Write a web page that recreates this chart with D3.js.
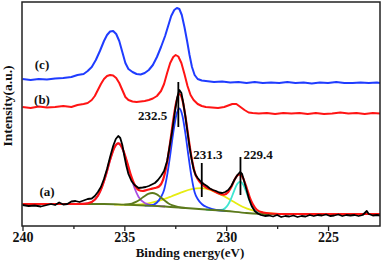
<!DOCTYPE html>
<html>
<head>
<meta charset="utf-8">
<script src="https://cdn.jsdelivr.net/npm/d3@7"></script>
<style>
  body { margin: 0; background: #fff; }
  text { font-family: "Liberation Serif", "Times New Roman", serif; font-weight: bold; fill: #111; }
</style>
</head>
<body>
<div id="chart"></div>
<script>
// binding energy (eV), intensity (a.u.) pairs
const curveC = [[240,148],[239.6,147],[239.2,148],[238.8,147.5],[238.4,148.5],[238.0,149],[237.6,150],[237.3,152],[237.0,153],[236.8,156],[236.6,160],[236.4,167],[236.2,176],[236.0,186],[235.85,192],[235.7,195.5],[235.55,196],[235.4,193],[235.25,186],[235.1,175],[234.95,164],[234.8,158],[234.6,155],[234.4,153],[234.2,152.5],[234.0,154],[233.8,157],[233.6,162],[233.4,170],[233.2,180],[233.0,191],[232.85,201],[232.7,211],[232.55,217],[232.42,219],[232.3,218],[232.18,212],[232.05,200],[231.92,186],[231.8,172],[231.68,160],[231.55,152],[231.4,148],[231.2,146.5],[231.0,146],[230.6,145],[230.2,145.5],[229.8,144.5],[229.4,145],[229.0,144],[228.6,145],[228.2,144],[227.8,144.5],[227.4,144],[227.0,145],[226.6,144],[226.2,144.5],[225.8,143.5],[225.4,144.5],[225.0,144],[224.6,145],[224.2,144],[223.8,144],[223.4,144.5],[223.0,144],[222.6,144.5],[222.45,144]];

const curveB = [[240,120],[239.6,119],[239.2,120.5],[238.8,119.5],[238.4,120],[238.0,121],[237.6,120],[237.3,122],[237.0,123],[236.8,124],[236.6,127],[236.45,131],[236.3,137],[236.15,143],[236.0,148],[235.85,151],[235.7,152],[235.55,151.5],[235.4,149],[235.25,144],[235.1,137],[234.95,130],[234.8,127],[234.6,125.5],[234.4,125],[234.2,125.5],[234.0,126],[233.8,127],[233.6,128.5],[233.4,131],[233.2,136],[233.05,143],[232.9,154],[232.75,164],[232.6,170],[232.48,172],[232.35,170.5],[232.2,164],[232.05,153],[231.9,141],[231.75,132],[231.6,127],[231.4,123],[231.2,121],[231.0,120],[230.7,119.5],[230.4,119],[230.1,120],[229.9,121.5],[229.7,123],[229.5,123],[229.3,120],[229.1,117],[228.9,114.5],[228.7,114],[228.4,113.5],[228.0,114],[227.6,113],[227.2,114],[226.8,113.5],[226.4,114],[226.0,113],[225.6,114],[225.2,113],[224.8,113.5],[224.4,114.5],[224.0,113.5],[223.6,114],[223.2,113],[222.8,114],[222.45,113.5]];

const dataA = [[240,22],[239.7,21],[239.4,21.5],[239.1,20.5],[238.8,22],[238.6,23],[238.4,22],[238.2,24.5],[238.0,22.5],[237.8,23],[237.6,25.5],[237.4,26],[237.2,25],[237.0,26.5],[236.8,28],[236.6,28.5],[236.45,31],[236.3,35],[236.15,40],[236.0,48],[235.85,58],[235.7,70],[235.55,81],[235.42,88],[235.3,91],[235.2,89],[235.1,82],[235.0,71],[234.9,61],[234.8,53],[234.65,46],[234.5,42],[234.3,39],[234.1,39.5],[233.95,40],[233.8,41],[233.65,42.5],[233.5,44],[233.35,47],[233.2,51],[233.05,56],[232.9,66],[232.78,80],[232.65,96],[232.52,115],[232.4,130],[232.3,137],[232.2,134],[232.1,123],[232.0,110],[231.9,95],[231.8,80],[231.7,68],[231.6,58],[231.5,52],[231.4,49],[231.25,45.5],[231.1,43],[230.95,41],[230.8,38.5],[230.65,37],[230.5,36],[230.35,34.5],[230.2,34],[230.05,35],[229.9,37],[229.75,41],[229.6,47],[229.45,52],[229.32,55],[229.22,53],[229.12,46],[229.0,37],[228.88,28],[228.75,21],[228.6,16],[228.45,13.5],[228.3,12],[228.1,11],[227.9,11.5],[227.7,10.5],[227.5,12],[227.3,10],[227.1,11],[226.9,10.5],[226.7,11.5],[226.5,10],[226.3,11],[226.1,10.5],[225.9,12],[225.7,11],[225.5,12],[225.3,11.5],[225.1,12.5],[224.9,11],[224.7,11.5],[224.5,12.5],[224.3,11],[224.1,12],[223.9,11.5],[223.7,12],[223.5,11],[223.3,12],[223.2,14],[223.1,16],[223.0,13],[222.8,11.5],[222.6,12],[222.45,11.5]];

const fitA = [[240,23],[238,23],[237,23.2],[236.6,25.1],[236.3,31.3],[236.1,40],[235.9,52.6],[235.7,67.2],[235.5,79.1],[235.3,83.6],[235.1,79],[234.9,67.2],[234.7,53.2],[234.5,42.5],[234.3,37],[234.1,36],[233.9,37],[233.7,38],[233.5,39],[233.3,40.5],[233.1,47.2],[232.9,64.7],[232.75,84.6],[232.6,106.8],[232.45,125.1],[232.3,132.9],[232.15,127.1],[232.0,110.3],[231.85,89.2],[231.7,69.2],[231.55,54.9],[231.4,48],[231.2,43],[231.0,39.7],[230.7,37],[230.4,33.9],[230.1,32.4],[229.9,35],[229.75,39.9],[229.6,46.8],[229.45,51.7],[229.31,52.7],[229.15,47.9],[229.0,39.3],[228.85,29.9],[228.7,22.9],[228.5,17.3],[228.2,14.5],[227.8,13.5],[227,13],[222.45,13]];

const backgroundA = [[240,23],[238,23],[236,23],[235,22.3],[234,21.5],[233,20.5],[232,19],[231,17.5],[230,16],[229,14],[228,13],[226,13],[222.45,13]];

const magentaA = [[237.6,23],[236.9,23.3],[236.6,25],[236.3,31],[236.1,40],[235.9,52],[235.7,67],[235.5,79],[235.3,83.5],[235.1,78.5],[234.9,66.5],[234.7,51.7],[234.5,39],[234.3,30],[234.0,24],[233.6,21.5],[233.0,20.5]];
const oliveA = [[235.0,22.4],[234.63,23.5],[234.43,25.1],[234.23,27.6],[234.03,30.6],[233.83,33.1],[233.63,34],[233.43,32.9],[233.23,30],[233.03,26.6],[232.83,23.6],[232.63,21.6],[232.33,19.9],[232.0,19]];
const blueA = [[234.0,21.3],[233.7,21.5],[233.4,24.5],[233.2,30],[233.05,37],[232.9,51.6],[232.75,71.9],[232.6,94.1],[232.45,111.7],[232.3,118.5],[232.15,111.3],[232.0,93.2],[231.85,70.6],[231.7,49.8],[231.55,34.7],[231.4,28],[231.2,23],[230.9,19.5],[230.5,17],[230.0,16]];
const yellowA = [[235.5,22.3],[234.7,22.2],[234.2,22.6],[233.7,24.1],[233.2,26.8],[232.7,30.5],[232.2,34.6],[231.7,37.9],[231.2,38.8],[230.7,36.4],[230.2,31.7],[229.7,26],[229.2,20.3],[228.7,16.6],[228.2,14.3],[227.7,13.4],[227.2,13]];
const cyanA = [[231.0,17.5],[230.6,16.9],[230.26,17],[230.06,18.8],[229.91,22.3],[229.76,28.4],[229.61,36.2],[229.46,42.9],[229.31,45.4],[229.16,42.2],[229.01,34.9],[228.86,26.6],[228.71,20],[228.56,16],[228.36,13.7],[228.0,13]];

// peak markers
const markerEnergy = [232.35, 231.2, 229.3];
const markerTop = [145, 64, 70];
const markerBottom = [100, 30, 32];
const markerLabels = ["232.5", "231.3", "229.4"];

const seriesLabels = ["(c)", "(b)", "(a)"];
const majorTicks = [240, 235, 230, 225];
const minorTicks = [237.5, 232.5, 227.5];

//chart set up
const svgWidth = 382;
const svgHeight = 260;
const plot = { left: 22, right: 380, top: 2, bottom: 226 };

const svg = d3.select("#chart")
  .append("svg")
  .attr("width", svgWidth)
  .attr("height", svgHeight);

const x = d3.scaleLinear()
  .domain([240, 222.45])
  .range([22.5, 380]);

const y = d3.scaleLinear()
  .domain([0, 225])
  .range([227, 2]);

svg.append("clipPath").attr("id", "clip")
  .append("rect")
  .attr("x", plot.left).attr("y", plot.top)
  .attr("width", plot.right - plot.left)
  .attr("height", plot.bottom - plot.top);

const smooth = d3.line()
  .x(d => x(d[0]))
  .y(d => y(d[1]))
  .curve(d3.curveMonotoneX);

const raw = d3.line()
  .x(d => x(d[0]))
  .y(d => y(d[1]));

const lines = svg.append("g").attr("clip-path", "url(#clip)");

function draw(data, color, gen, w) {
  lines.append("path")
    .datum(data)
    .attr("d", gen)
    .attr("fill", "none")
    .attr("stroke", color)
    .attr("stroke-width", w || 1.8)
    .attr("stroke-linejoin", "round");
}

// spectra (c) and (b)
draw(curveC, "#1f3cff", raw, 2);
draw(curveB, "#ff1414", raw, 2);

// fitted components of (a)
draw(yellowA, "#e6ec12", smooth);
draw(cyanA, "#3ee6d2", smooth);
draw(magentaA, "#a84ee0", smooth);
draw(blueA, "#1f3cff", smooth);
draw(oliveA, "#5c7a1c", smooth);
draw(backgroundA, "#5c7a1c", smooth);
draw(fitA, "#ff1414", smooth, 2.2);
draw(dataA, "#000", raw, 1.8);

// peak marker lines
markerEnergy.forEach((e, i) => {
  svg.append("line")
    .attr("x1", x(e)).attr("x2", x(e))
    .attr("y1", y(markerTop[i])).attr("y2", y(markerBottom[i]))
    .attr("stroke", "#000")
    .attr("stroke-width", 1.8);
});

svg.append("text").attr("x", x(markerEnergy[0]) - 11).attr("y", 120)
  .attr("text-anchor", "end").style("font-size", "13px").text(markerLabels[0]);
svg.append("text").attr("x", x(markerEnergy[1]) + 6).attr("y", 159)
  .attr("text-anchor", "middle").style("font-size", "13px").text(markerLabels[1]);
svg.append("text").attr("x", x(markerEnergy[2]) + 3).attr("y", 159)
  .attr("text-anchor", "start").style("font-size", "13px").text(markerLabels[2]);

// series labels
[[42, 69], [42, 104], [47, 196]].forEach((p, i) => {
  svg.append("text").attr("x", p[0]).attr("y", p[1])
    .attr("text-anchor", "middle").style("font-size", "13px")
    .text(seriesLabels[i]);
});

// frame
svg.append("rect")
  .attr("x", plot.left).attr("y", plot.top)
  .attr("width", plot.right - plot.left)
  .attr("height", plot.bottom - plot.top)
  .attr("fill", "none")
  .attr("stroke", "#222")
  .attr("stroke-width", 1.5);

// x axis
const xAxis = svg.append("g")
  .attr("transform", `translate(0, ${plot.bottom})`)
  .call(d3.axisBottom(x).tickValues(majorTicks).tickSize(5).tickFormat(d3.format("d")));
xAxis.select(".domain").remove();
xAxis.selectAll(".tick line").attr("stroke", "#222").attr("stroke-width", 1.3);
xAxis.selectAll("text")
  .attr("dy", null).attr("y", 16)
  .style("font-size", "14px")
  .style("font-family", "'Liberation Serif', serif")
  .style("font-weight", "bold")
  .attr("fill", "#111");

svg.append("g")
  .attr("transform", `translate(0, ${plot.bottom})`)
  .call(d3.axisBottom(x).tickValues(minorTicks).tickSize(3).tickFormat(""))
  .call(g => g.select(".domain").remove())
  .selectAll(".tick line").attr("stroke", "#222").attr("stroke-width", 1.3);

// axis titles
svg.append("text")
  .attr("x", 190).attr("y", 256.5)
  .attr("text-anchor", "middle")
  .style("font-size", "13px")
  .text("Binding energy(eV)");

svg.append("text")
  .attr("transform", "translate(12, 106) rotate(-90)")
  .attr("text-anchor", "middle")
  .style("font-size", "13.5px")
  .text("Intensity(a.u.)");
</script>
</body>
</html>
